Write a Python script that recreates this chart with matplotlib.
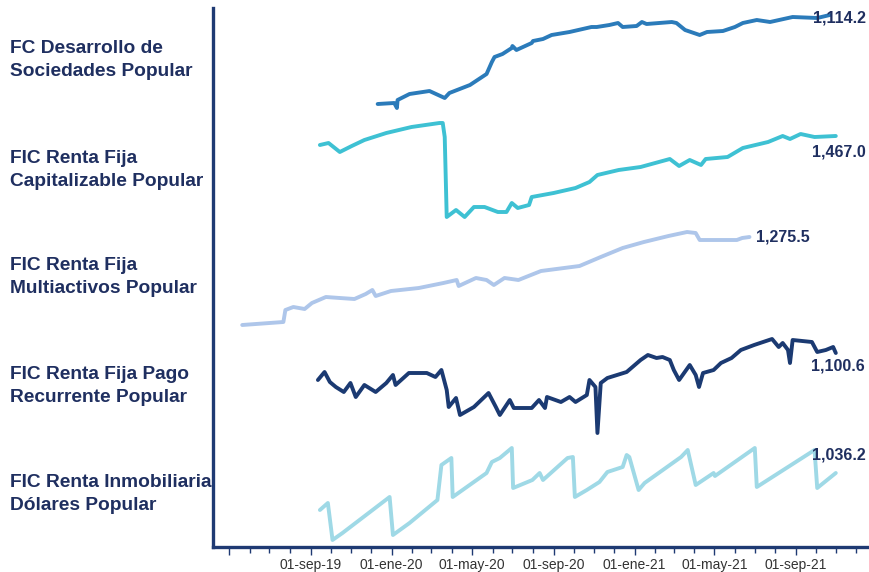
import matplotlib
matplotlib.use('Agg')
import matplotlib.pyplot as plt
import matplotlib.dates as mdates
import pandas as pd

plt.rcParams['font.family'] = ['Liberation Sans', 'DejaVu Sans']

# --- datos (valor de la unidad) ---
desarrollo_fechas = ['2019-12-11', '2020-01-05', '2020-01-09', '2020-01-10', '2020-01-28', '2020-02-27',
                     '2020-03-21', '2020-03-28', '2020-04-28', '2020-05-23', '2020-05-31', '2020-06-04',
                     '2020-06-16', '2020-06-30', '2020-07-01', '2020-07-07', '2020-07-30', '2020-08-01',
                     '2020-08-16', '2020-08-29', '2020-09-25', '2020-10-28', '2020-11-05', '2020-11-24',
                     '2020-12-07', '2020-12-14', '2021-01-04', '2021-01-12', '2021-01-19', '2021-02-26',
                     '2021-03-05', '2021-03-18', '2021-04-09', '2021-04-20', '2021-05-14', '2021-06-01',
                     '2021-06-13', '2021-07-04', '2021-07-24', '2021-08-27', '2021-10-03', '2021-10-22']
desarrollo_valores = [980.7, 982.2, 974.7, 986.7, 995.7, 1000.2,
                      989.7, 997.2, 1009.2, 1025.7, 1043.7, 1051.2,
                      1055.7, 1064.7, 1067.7, 1061.7, 1072.2, 1075.2,
                      1078.2, 1084.2, 1088.7, 1096.2, 1096.2, 1099.2,
                      1102.2, 1096.2, 1097.7, 1103.7, 1100.7, 1103.7,
                      1102.2, 1091.7, 1084.2, 1088.7, 1090.2, 1096.2,
                      1102.2, 1106.7, 1103.7, 1111.2, 1109.7, 1114.2]

capitalizable_fechas = ['2019-09-15', '2019-09-28', '2019-10-15', '2019-11-02', '2019-11-21', '2019-12-24',
                        '2020-01-31', '2020-03-13', '2020-03-18', '2020-03-21', '2020-03-24', '2020-04-07',
                        '2020-04-20', '2020-05-04', '2020-05-20', '2020-06-09', '2020-06-22', '2020-06-30',
                        '2020-07-09', '2020-07-26', '2020-07-30', '2020-09-01', '2020-10-04', '2020-10-25',
                        '2020-11-06', '2020-12-08', '2021-01-10', '2021-02-23', '2021-03-09', '2021-03-25',
                        '2021-04-11', '2021-04-18', '2021-05-21', '2021-06-13', '2021-07-21', '2021-08-12',
                        '2021-08-23', '2021-09-08', '2021-09-29', '2021-10-31']
capitalizable_valores = [1449, 1453, 1435, 1447, 1459, 1473,
                         1485, 1493, 1493, 1465, 1305, 1319,
                         1305, 1325, 1325, 1315, 1315, 1333,
                         1323, 1329, 1345, 1353, 1363, 1375,
                         1389, 1399, 1405, 1421, 1407, 1419,
                         1409, 1421, 1425, 1443, 1455, 1467,
                         1461, 1471, 1465, 1467.0]

multiactivos_fechas = ['2019-05-21', '2019-07-22', '2019-07-25', '2019-08-06', '2019-08-23', '2019-09-03',
                       '2019-09-24', '2019-10-15', '2019-11-06', '2019-11-23', '2019-12-03', '2019-12-08',
                       '2019-12-31', '2020-02-11', '2020-03-19', '2020-04-08', '2020-04-11', '2020-05-07',
                       '2020-05-23', '2020-06-03', '2020-06-19', '2020-07-10', '2020-08-13', '2020-10-10',
                       '2020-11-11', '2020-12-14', '2021-01-15', '2021-02-21', '2021-03-21', '2021-04-03',
                       '2021-04-09', '2021-04-27', '2021-06-04', '2021-06-12', '2021-06-23']
multiactivos_valores = [1187.5, 1190.5, 1202.5, 1205.5, 1203.5, 1209.5,
                        1215.5, 1214.5, 1213.5, 1218.5, 1222.5, 1216.5,
                        1221.5, 1224.5, 1229.5, 1232.5, 1226.5, 1234.5,
                        1232.5, 1227.5, 1234.5, 1232.5, 1241.5, 1246.5,
                        1255.5, 1264.5, 1270.5, 1276.5, 1280.5, 1279.5,
                        1272.5, 1272.5, 1272.5, 1274.5, 1275.5]

recurrente_fechas = ['2019-09-12', '2019-09-22', '2019-09-30', '2019-10-09', '2019-10-21', '2019-10-31',
                     '2019-11-08', '2019-11-21', '2019-12-08', '2019-12-24', '2020-01-03', '2020-01-07',
                     '2020-01-27', '2020-02-23', '2020-03-07', '2020-03-16', '2020-03-24', '2020-03-27',
                     '2020-04-07', '2020-04-13', '2020-05-04', '2020-05-26', '2020-06-06', '2020-06-12',
                     '2020-06-19', '2020-06-27', '2020-07-03', '2020-07-30', '2020-08-10', '2020-08-19',
                     '2020-08-22', '2020-09-12', '2020-09-25', '2020-10-04', '2020-10-21', '2020-10-25',
                     '2020-11-03', '2020-11-06', '2020-11-11', '2020-11-21', '2020-12-20', '2021-01-10',
                     '2021-01-21', '2021-02-03', '2021-02-12', '2021-02-23', '2021-03-01', '2021-03-09',
                     '2021-03-25', '2021-04-03', '2021-04-08', '2021-04-14', '2021-04-30', '2021-05-11',
                     '2021-05-27', '2021-06-10', '2021-06-30', '2021-07-27', '2021-08-06', '2021-08-12',
                     '2021-08-20', '2021-08-23', '2021-08-27', '2021-09-25', '2021-10-03', '2021-10-16',
                     '2021-10-27', '2021-10-31']
recurrente_valores = [1087.1, 1091.1, 1086.1, 1083.6, 1081.1, 1085.6,
                      1078.6, 1084.6, 1081.1, 1085.6, 1089.6, 1084.6,
                      1090.6, 1090.6, 1088.6, 1092.1, 1082.1, 1073.6,
                      1078.1, 1069.6, 1073.6, 1080.6, 1073.6, 1069.6,
                      1073.1, 1077.1, 1073.1, 1073.1, 1077.1, 1073.1,
                      1078.6, 1076.1, 1078.6, 1076.1, 1079.6, 1087.1,
                      1083.6, 1060.6, 1085.6, 1088.1, 1091.1, 1097.1,
                      1099.6, 1098.1, 1098.6, 1097.1, 1092.1, 1087.1,
                      1094.6, 1089.6, 1083.6, 1090.6, 1092.1, 1095.6,
                      1098.1, 1102.1, 1104.6, 1107.6, 1103.6, 1105.6,
                      1102.1, 1095.6, 1107.1, 1106.1, 1101.1, 1102.1,
                      1103.6, 1100.6]

inmobiliaria_fechas = ['2019-09-15', '2019-09-27', '2019-10-04', '2019-10-19', '2019-12-29', '2020-01-03',
                       '2020-01-28', '2020-03-10', '2020-03-16', '2020-03-31', '2020-04-02', '2020-05-23',
                       '2020-05-31', '2020-06-12', '2020-06-30', '2020-07-02', '2020-07-31', '2020-08-11',
                       '2020-08-16', '2020-09-22', '2020-09-30', '2020-10-03', '2020-10-21', '2020-11-09',
                       '2020-11-21', '2020-12-14', '2020-12-20', '2020-12-24', '2021-01-07', '2021-01-16',
                       '2021-03-12', '2021-03-22', '2021-04-03', '2021-04-30', '2021-05-02', '2021-07-01',
                       '2021-07-04', '2021-09-29', '2021-10-03', '2021-10-31']
inmobiliaria_valores = [1025.1, 1027.2, 1016.1, 1018.2, 1029.0, 1017.6,
                        1021.2, 1028.1, 1038.6, 1040.7, 1029.0, 1036.2,
                        1039.5, 1040.7, 1043.7, 1031.7, 1034.1, 1036.2,
                        1034.1, 1040.7, 1041.0, 1029.0, 1031.1, 1033.5,
                        1036.5, 1038.0, 1041.6, 1041.0, 1031.1, 1033.2,
                        1041.0, 1043.1, 1032.6, 1036.2, 1035.3, 1043.7,
                        1032.0, 1043.1, 1031.7, 1036.2]

nombres = ['FC Desarrollo de\nSociedades Popular',
           'FIC Renta Fija\nCapitalizable Popular',
           'FIC Renta Fija\nMultiactivos Popular',
           'FIC Renta Fija Pago\nRecurrente Popular',
           'FIC Renta Inmobiliaria\nDólares Popular']

series = [(desarrollo_fechas, desarrollo_valores),
          (capitalizable_fechas, capitalizable_valores),
          (multiactivos_fechas, multiactivos_valores),
          (recurrente_fechas, recurrente_valores),
          (inmobiliaria_fechas, inmobiliaria_valores)]

colores = ['#2b7bba', '#3ec1d3', '#aec6ea', '#1b3a72', '#9fd9e6']
# rango vertical de cada banda (cada serie tiene su propia escala)
bandas = [(316.2, 1124.7), (645, 1723), (965.5, 1504.5), (1003.6, 1273.1), (1014.0, 1175.7)]
# desplazamiento de la etiqueta final en pixeles
desp = [(-17, -3), (-24, -16), (7, 0), (-25, -13), (-24, 18)]
y_nombres = [60, 170, 277, 386, 494]

azul = '#1f3a73'
texto = '#1f2f60'
meses = {1: 'ene', 5: 'may', 9: 'sep'}


def etiqueta_fecha(x, pos):
    d = mdates.num2date(x)
    if d.year == 2019 and d.month == 5:
        return ''
    return '01-' + meses[d.month] + d.strftime('-%y')


fig = plt.figure(figsize=(8.69, 5.72), dpi=100)
W, H = 869, 572
ax = fig.add_axes([213 / W, (H - 547) / H, (W - 213) / W, (547 - 8) / H])
ax.patch.set_alpha(0)

ejes = [ax] + [ax.twinx() for _ in range(4)]
for i, (a, (f, v)) in enumerate(zip(ejes, series)):
    fechas = pd.to_datetime(f)
    a.plot(fechas, v, color=colores[i], lw=2.8, solid_joinstyle='round', solid_capstyle='round', zorder=2)
    a.set_ylim(*bandas[i])
    a.annotate(f'{v[-1]:,.1f}', (fechas[-1], v[-1]), xytext=desp[i], textcoords='offset pixels',
               ha='left', va='center', fontsize=11.5, fontweight='bold', color=texto, zorder=5)
    a.set_yticks([])
    if i > 0:
        for s in a.spines.values():
            s.set_visible(False)

ax.set_xlim(pd.Timestamp('2019-04-07'), pd.Timestamp('2021-12-20'))
for s in ['top', 'right']:
    ax.spines[s].set_visible(False)
for s in ['left', 'bottom']:
    ax.spines[s].set_color(azul)
    ax.spines[s].set_linewidth(2.4)

ax.xaxis.set_major_locator(mdates.MonthLocator(bymonth=[1, 5, 9]))
ax.xaxis.set_minor_locator(mdates.MonthLocator())
ax.xaxis.set_major_formatter(plt.FuncFormatter(etiqueta_fecha))
ax.tick_params(axis='x', which='major', length=6, width=1, color=azul, labelsize=10, labelcolor='#333333', pad=2)
ax.tick_params(axis='x', which='minor', length=4, width=1, color=azul)

for y, n in zip(y_nombres, nombres):
    fig.text(10 / W, 1 - y / H, n, ha='left', va='center', fontsize=13.8, fontweight='bold',
             color=texto, linespacing=1.4)

fig.savefig('out.png', dpi=100)
